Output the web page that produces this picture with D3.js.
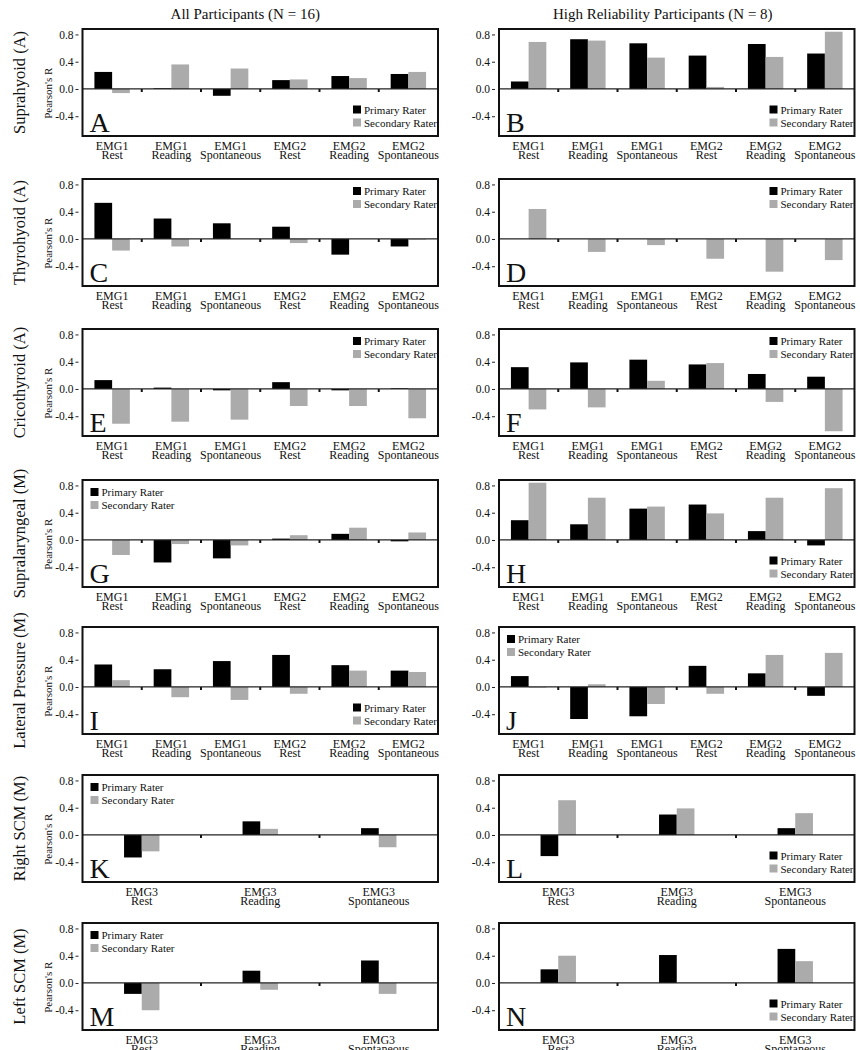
<!DOCTYPE html>
<html><head><meta charset="utf-8">
<script src="https://cdn.jsdelivr.net/npm/d3@7"></script>
<style>body{margin:0;background:#fff}svg{display:block}</style>
</head><body><svg id="c" width="860" height="1050"></svg>
<script>
// ---------- data ----------
const categories6 = ["EMG1 Rest","EMG1 Reading","EMG1 Spontaneous","EMG2 Rest","EMG2 Reading","EMG2 Spontaneous"];
const categories3 = ["EMG3 Rest","EMG3 Reading","EMG3 Spontaneous"];
const rowLabels = ["Suprahyoid (A)","Thyrohyoid (A)","Cricothyroid (A)","Supralaryngeal (M)","Lateral Pressure (M)","Right SCM (M)","Left SCM (M)"];
const columnTitles = ["All Participants (N = 16)","High Reliability Participants (N = 8)"];
const seriesNames = ["Primary Rater","Secondary Rater"];
const yTicks = [0.8, 0.4, 0.0, -0.4];
const yLabel = "Pearson's R";

// left column (All participants)
const primaryA = [0.25, 0.01, -0.10, 0.13, 0.19, 0.22];
const secondaryA = [-0.06, 0.36, 0.30, 0.14, 0.16, 0.25];
const primaryC = [0.53, 0.30, 0.23, 0.18, -0.23, -0.11];
const secondaryC = [-0.17, -0.11, 0.00, -0.06, 0.00, -0.01];
const primaryE = [0.13, 0.02, -0.02, 0.10, -0.02, 0.01];
const secondaryE = [-0.51, -0.48, -0.45, -0.25, -0.25, -0.43];
const primaryG = [0.00, -0.33, -0.27, 0.02, 0.09, -0.02];
const secondaryG = [-0.22, -0.06, -0.08, 0.07, 0.18, 0.11];
const primaryI = [0.33, 0.26, 0.38, 0.47, 0.32, 0.24];
const secondaryI = [0.10, -0.15, -0.19, -0.10, 0.24, 0.22];
const primaryK = [-0.33, 0.20, 0.10];
const secondaryK = [-0.24, 0.09, -0.18];
const primaryM = [-0.16, 0.18, 0.33];
const secondaryM = [-0.40, -0.10, -0.16];

// right column (High reliability participants)
const primaryB = [0.11, 0.73, 0.67, 0.49, 0.66, 0.52];
const secondaryB = [0.69, 0.71, 0.46, 0.03, 0.47, 0.84];
const primaryD = [0, 0, 0, 0, 0, 0];
const secondaryD = [0.44, -0.19, -0.09, -0.29, -0.48, -0.31];
const primaryF = [0.32, 0.39, 0.43, 0.36, 0.22, 0.18];
const secondaryF = [-0.30, -0.27, 0.12, 0.38, -0.19, -0.62];
const primaryH = [0.29, 0.23, 0.46, 0.52, 0.13, -0.08];
const secondaryH = [0.84, 0.62, 0.49, 0.39, 0.62, 0.76];
const primaryJ = [0.16, -0.47, -0.43, 0.31, 0.20, -0.13];
const secondaryJ = [-0.01, 0.04, -0.25, -0.10, 0.47, 0.50];
const primaryL = [-0.31, 0.30, 0.10];
const secondaryL = [0.51, 0.39, 0.32];
const primaryN = [0.20, 0.41, 0.50];
const secondaryN = [0.40, 0.00, 0.32];

// ---------- layout ----------
const FONT = "Liberation Serif, Times New Roman, serif";
const colX = [82.5, 499];
const boxW = 355.5;
const rowZero = [89, 239, 389, 540, 687, 835, 983];
const aboveZero = 60, belowZero = 47;
const barW = 17.7;
const colors = ["#000000", "#ababab"];

const panels = [
  {col:0,row:0,letter:"A",cats:categories6,p:primaryA,s:secondaryA,leg:"br"},
  {col:1,row:0,letter:"B",cats:categories6,p:primaryB,s:secondaryB,leg:"br"},
  {col:0,row:1,letter:"C",cats:categories6,p:primaryC,s:secondaryC,leg:"tr"},
  {col:1,row:1,letter:"D",cats:categories6,p:primaryD,s:secondaryD,leg:"tr"},
  {col:0,row:2,letter:"E",cats:categories6,p:primaryE,s:secondaryE,leg:"tr"},
  {col:1,row:2,letter:"F",cats:categories6,p:primaryF,s:secondaryF,leg:"tr"},
  {col:0,row:3,letter:"G",cats:categories6,p:primaryG,s:secondaryG,leg:"tl"},
  {col:1,row:3,letter:"H",cats:categories6,p:primaryH,s:secondaryH,leg:"br"},
  {col:0,row:4,letter:"I",cats:categories6,p:primaryI,s:secondaryI,leg:"br"},
  {col:1,row:4,letter:"J",cats:categories6,p:primaryJ,s:secondaryJ,leg:"tl"},
  {col:0,row:5,letter:"K",cats:categories3,p:primaryK,s:secondaryK,leg:"tl"},
  {col:1,row:5,letter:"L",cats:categories3,p:primaryL,s:secondaryL,leg:"br"},
  {col:0,row:6,letter:"M",cats:categories3,p:primaryM,s:secondaryM,leg:"tl"},
  {col:1,row:6,letter:"N",cats:categories3,p:primaryN,s:secondaryN,leg:"br"}
];

const svg = d3.select("#c").attr("font-family", FONT);

// column titles
svg.selectAll("text.coltitle").data(columnTitles).join("text")
  .attr("class","coltitle")
  .attr("x", (d,i) => colX[i] + boxW/2 + (i===0 ? -15 : -14))
  .attr("y", 19)
  .attr("text-anchor","middle")
  .attr("font-size", 15)
  .attr("fill","#111")
  .text(d => d);

// row labels
rowLabels.forEach((lab, r) => {
  const cy = rowZero[r] - aboveZero + (aboveZero + belowZero)/2;
  svg.append("text")
    .attr("transform", `translate(25,${cy}) rotate(-90)`)
    .attr("text-anchor","middle")
    .attr("font-size", 16.5)
    .attr("fill","#111")
    .text(lab);
});

panels.forEach(pn => {
  const x0 = colX[pn.col];
  const top = rowZero[pn.row] - aboveZero;
  const h = aboveZero + belowZero;
  const g = svg.append("g").attr("transform", `translate(${x0},${top})`);

  const x = d3.scaleBand().domain(pn.cats).range([0, boxW]);
  const sub = d3.scaleBand().domain(seriesNames).range([-barW, barW]);
  const y = d3.scaleLinear().domain([-0.69, 0.88]).range([h, 0]);

  const rows = pn.cats.map((c, i) => ({cat:c, vals:[pn.p[i], pn.s[i]]}));

  // bars
  const grp = g.selectAll("g.cat").data(rows).join("g")
    .attr("transform", d => `translate(${x(d.cat) + x.bandwidth()/2},0)`);
  grp.selectAll("rect").data(d => d.vals.map((v,k) => ({v, k}))).join("rect")
    .attr("x", d => sub(seriesNames[d.k]))
    .attr("width", sub.bandwidth())
    .attr("y", d => y(Math.max(0, d.v)))
    .attr("height", d => Math.abs(y(d.v) - y(0)))
    .attr("fill", d => colors[d.k]);

  // zero line
  g.append("line").attr("x1",0).attr("x2",boxW).attr("y1",y(0)).attr("y2",y(0))
    .attr("stroke","#222").attr("stroke-width",1.3);

  // category boundary ticks on zero line
  g.selectAll("line.bt").data(pn.cats.slice(1)).join("line")
    .attr("class","bt")
    .attr("x1", d => x(d)).attr("x2", d => x(d))
    .attr("y1", y(0)).attr("y2", y(0) + 3)
    .attr("stroke","#111").attr("stroke-width",2);

  // frame
  g.append("rect").attr("x",0).attr("y",0).attr("width",boxW).attr("height",h)
    .attr("fill","none").attr("stroke","#111").attr("stroke-width",2);

  // y axis
  const ya = g.append("g").attr("transform","translate(-4,0)")
    .call(d3.axisLeft(y).tickValues(yTicks).tickSize(3).tickPadding(2).tickFormat(d => d.toFixed(1)));
  ya.attr("font-family", null);
  ya.select(".domain").remove();
  ya.selectAll("line").attr("stroke","#222");
  ya.selectAll("text").attr("font-size",11.5).attr("fill","#111");

  // x labels (two lines)
  const xl = g.selectAll("text.xl").data(pn.cats).join("text")
    .attr("class","xl")
    .attr("text-anchor","middle")
    .attr("font-size",12)
    .attr("fill","#111");
  xl.each(function(d){
    const parts = d.split(" ");
    const t = d3.select(this);
    const cx = x(d) + x.bandwidth()/2;
    t.append("tspan").attr("x",cx).attr("y",h+13.5).text(parts[0]);
    t.append("tspan").attr("x",cx).attr("y",h+22.5).text(parts[1]);
  });

  // panel letter
  g.append("text").attr("x",7).attr("y",h-4).attr("font-size",28).attr("fill","#111").text(pn.letter);

  // y label
  if (pn.col === 0) {
    g.append("text")
      .attr("transform", `translate(-31,${h*0.6}) rotate(-90)`)
      .attr("text-anchor","middle")
      .attr("font-size",11)
      .attr("fill","#111")
      .text(yLabel);
  }

  // legend
  let lx, ly;
  if (pn.leg === "br") { lx = boxW - 85; ly = h - 26.5; }
  else if (pn.leg === "tr") { lx = boxW - 85; ly = 12; }
  else { lx = 8; ly = 12; }
  const lg = g.append("g").attr("transform", `translate(${lx},${ly})`);
  seriesNames.forEach((s, k) => {
    lg.append("rect").attr("x",0).attr("y",k*13 - 4).attr("width",8).attr("height",8).attr("fill",colors[k]);
    lg.append("text").attr("x",11).attr("y",k*13 + 4).attr("font-size",11).attr("fill","#111").text(s);
  });
});
</script>
</body></html>
